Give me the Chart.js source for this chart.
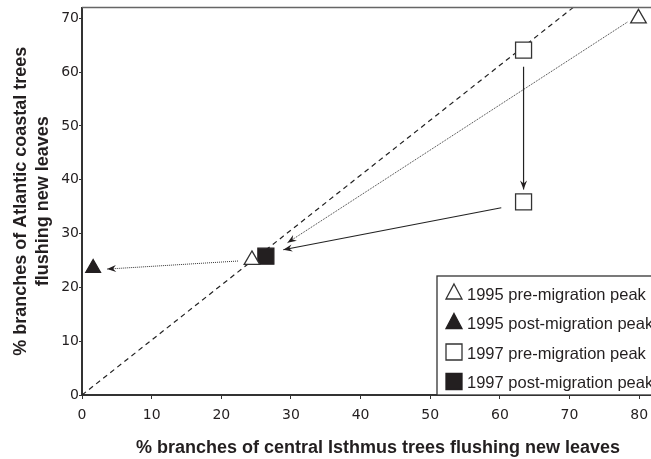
<!DOCTYPE html>
<html>
<head>
<meta charset="utf-8">
<script src="https://cdn.jsdelivr.net/npm/chart.js@4.4.0/dist/chart.umd.min.js"></script>
<style>
  html, body { margin: 0; padding: 0; background: #fff; overflow: hidden; }
  #wrap { width: 690px; height: 464px; margin-top: -5px; }
</style>
</head>
<body>
<div id="wrap"><canvas id="chart"></canvas></div>
<script>
// data
const xTicks = [0, 10, 20, 30, 40, 50, 60, 70, 80];
const yTicks = [0, 10, 20, 30, 40, 50, 60, 70];

const pre1995 = [{x: 24.4, y: 25.1}, {x: 79.9, y: 70.0}];
const post1995 = [{x: 1.6, y: 23.6}];
const pre1997 = [{x: 63.4, y: 64.1}, {x: 63.4, y: 35.9}];
const post1997 = [{x: 26.4, y: 25.8}];

// 1:1 reference line
const oneToOne = [{x: 0, y: 0}, {x: 70.5, y: 72}];

// arrows (from -> to)
const arrow1995a = [{x: 78.3, y: 69.3}, {x: 29.5, y: 28.3}];
const arrow1995b = [{x: 22.4, y: 24.9}, {x: 3.6, y: 23.4}];
const arrow1997a = [{x: 63.4, y: 61.0}, {x: 63.4, y: 38.2}];
const arrow1997b = [{x: 60.2, y: 34.8}, {x: 28.9, y: 27.0}];

const legendLabels = [
    '1995 pre-migration peak',
    '1995 post-migration peak',
    '1997 pre-migration peak',
    '1997 post-migration peak'
];
const legendStyles = [
    {shape: 'triangle', filled: false},
    {shape: 'triangle', filled: true},
    {shape: 'rect', filled: false},
    {shape: 'rect', filled: true}
];

const INK = '#231f20';

function drawMarker(ctx, shape, filled, x, y) {
    ctx.save();
    ctx.beginPath();
    if (shape === 'triangle') {
        ctx.moveTo(x, y - 9);
        ctx.lineTo(x + 8, y + 6);
        ctx.lineTo(x - 8, y + 6);
        ctx.closePath();
    } else {
        ctx.rect(x - 8, y - 8, 16, 16);
    }
    ctx.fillStyle = filled ? INK : '#fff';
    ctx.fill();
    ctx.lineWidth = 1.3;
    ctx.strokeStyle = filled ? INK : '#333';
    ctx.stroke();
    ctx.restore();
}

const extras = {
    id: 'extras',
    afterDatasetsDraw(chart) {
        const ctx = chart.ctx;
        const area = chart.chartArea;
        const xs = chart.scales.x, ys = chart.scales.y;

        // top frame line
        ctx.save();
        ctx.strokeStyle = '#666';
        ctx.lineWidth = 1.5;
        ctx.beginPath();
        ctx.moveTo(area.left, area.top);
        ctx.lineTo(area.right + 20, area.top);
        ctx.stroke();
        ctx.restore();

        // arrow heads on arrow datasets
        chart.data.datasets.forEach(ds => {
            if (!ds.arrow) return;
            const a = ds.data[ds.data.length - 2];
            const b = ds.data[ds.data.length - 1];
            const x1 = xs.getPixelForValue(a.x), y1 = ys.getPixelForValue(a.y);
            const x2 = xs.getPixelForValue(b.x), y2 = ys.getPixelForValue(b.y);
            const ang = Math.atan2(y2 - y1, x2 - x1);
            const len = 9, half = 3.5;
            ctx.save();
            ctx.translate(x2, y2);
            ctx.rotate(ang);
            ctx.fillStyle = INK;
            ctx.beginPath();
            ctx.moveTo(0, 0);
            ctx.lineTo(-len, -half);
            ctx.lineTo(-len + 3, 0);
            ctx.lineTo(-len, half);
            ctx.closePath();
            ctx.fill();
            ctx.restore();
        });

        // legend box in lower right
        const bx = 437, by = area.bottom - 119;
        ctx.save();
        ctx.fillStyle = '#fff';
        ctx.fillRect(bx, by, area.right + 40 - bx, area.bottom - by);
        ctx.strokeStyle = '#333';
        ctx.lineWidth = 1.3;
        ctx.strokeRect(bx, by, area.right + 40 - bx, area.bottom - by);
        ctx.font = '16.5px "Liberation Sans", Arial, sans-serif';
        ctx.fillStyle = INK;
        ctx.textBaseline = 'middle';
        legendLabels.forEach((txt, i) => {
            const cy = by + 18 + i * 29.5;
            drawMarker(ctx, legendStyles[i].shape, legendStyles[i].filled, 454, cy - 1);
            ctx.fillText(txt, 467, cy + 1);
        });
        ctx.restore();
    }
};

const markerDs = (label, data, shape, filled, r) => ({
    label, data,
    showLine: false,
    pointStyle: shape,
    pointRadius: r,
    pointHoverRadius: r,
    pointBackgroundColor: filled ? INK : '#fff',
    pointBorderColor: filled ? INK : '#333',
    pointBorderWidth: 1.3
});

const lineDs = (label, data, dash, width, color, arrow) => ({
    label, data,
    showLine: true,
    arrow,
    borderColor: color,
    borderWidth: width,
    borderDash: dash,
    pointRadius: 0,
    fill: false
});

new Chart(document.getElementById('chart'), {
    type: 'scatter',
    data: {
        datasets: [
            markerDs('1995 pre-migration peak', pre1995, 'triangle', false, 9),
            markerDs('1995 post-migration peak', post1995, 'triangle', true, 8.5),
            markerDs('1997 pre-migration peak', pre1997, 'rect', false, 11.3),
            markerDs('1997 post-migration peak', post1997, 'rect', true, 11.3),
            lineDs('1:1', oneToOne, [5, 4], 1.2, '#222', false),
            lineDs('1995 a', arrow1995a, [1, 1], 1, '#333', true),
            lineDs('1995 b', arrow1995b, [1, 1], 1, '#333', true),
            lineDs('1997 a', arrow1997a, [], 1.2, '#222', true),
            lineDs('1997 b', arrow1997b, [], 1.2, '#222', true)
        ]
    },
    options: {
        responsive: true,
        maintainAspectRatio: false,
        animation: false,
        layout: { padding: { top: 7, right: 16, left: 0, bottom: 0 } },
        plugins: {
            legend: { display: false },
            tooltip: { enabled: false }
        },
        scales: {
            x: {
                type: 'linear',
                min: 0, max: 85,
                afterBuildTicks: s => { s.ticks = xTicks.map(v => ({value: v})); },
                afterFit: s => { s.height = 64; },
                border: { display: true, color: '#333', width: 2 },
                grid: { drawOnChartArea: false, drawTicks: true, tickLength: 4, color: '#333' },
                ticks: {
                    color: INK,
                    padding: 8,
                    font: { family: '"DejaVu Sans", Verdana, sans-serif', size: 14 }
                },
                title: {
                    display: true,
                    text: '% branches of central Isthmus trees flushing new leaves',
                    color: INK,
                    padding: { top: 2, bottom: 0 },
                    font: { family: '"Liberation Sans", Arial, sans-serif', size: 18, weight: 'bold' }
                }
            },
            y: {
                type: 'linear',
                min: 0, max: 72,
                afterBuildTicks: s => { s.ticks = yTicks.map(v => ({value: v})); },
                afterFit: s => { s.width = 82; },
                border: { display: true, color: '#333', width: 2 },
                grid: { drawOnChartArea: false, drawTicks: true, tickLength: 3, color: '#333' },
                ticks: {
                    color: INK,
                    padding: 0,
                    font: { family: '"DejaVu Sans", Verdana, sans-serif', size: 14 }
                },
                title: {
                    display: true,
                    text: ['% branches of Atlantic coastal trees', 'flushing new leaves'],
                    color: INK,
                    padding: { top: 10, bottom: 0 },
                    font: { family: '"Liberation Sans", Arial, sans-serif', size: 18, weight: 'bold', lineHeight: 1.22 }
                }
            }
        }
    },
    plugins: [extras]
});
</script>
</body>
</html>
